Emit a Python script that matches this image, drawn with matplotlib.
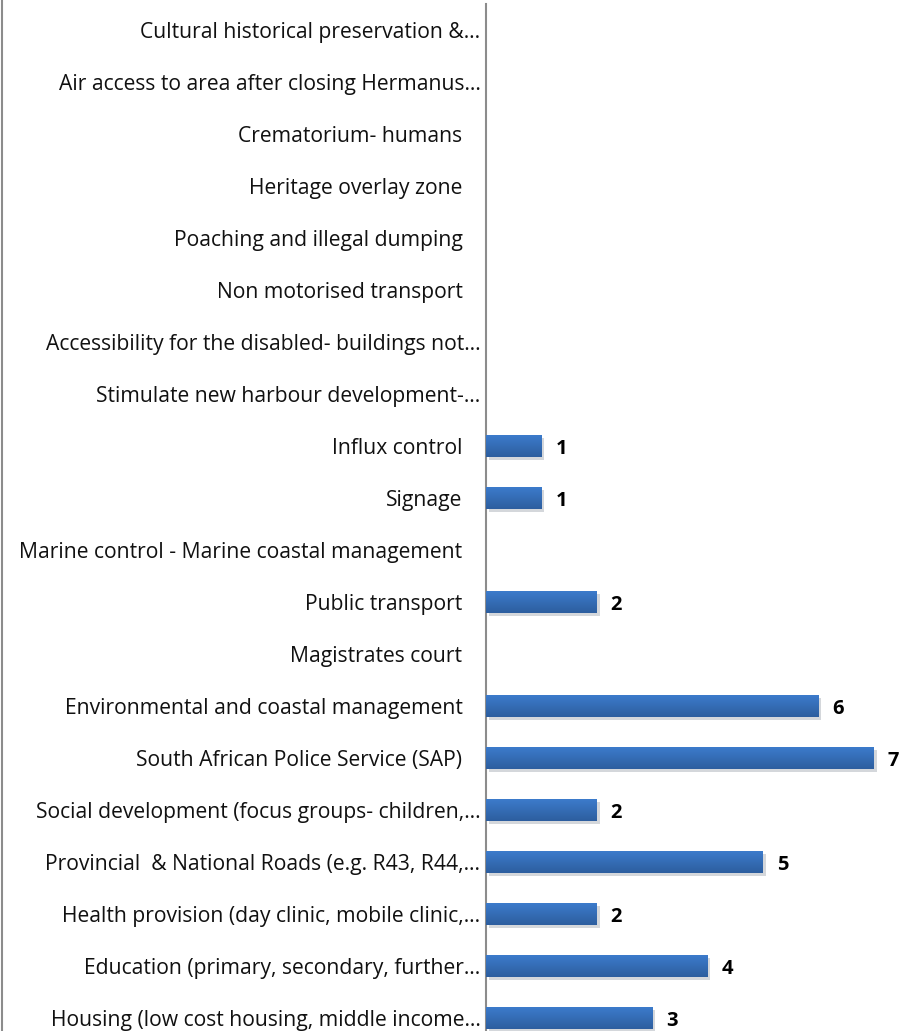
import numpy as np
import matplotlib.pyplot as plt
import matplotlib.patheffects as pe
from matplotlib.lines import Line2D
from matplotlib.colors import LinearSegmentedColormap

# categories listed bottom -> top
categories = [
    'Housing (low cost housing, middle income\u2026',
    'Education (primary, secondary, further\u2026',
    'Health provision (day clinic, mobile clinic,\u2026',
    'Provincial  & National Roads (e.g. R43, R44,\u2026',
    'Social development (focus groups- children,\u2026',
    'South African Police Service (SAP)',
    'Environmental and coastal management',
    'Magistrates court',
    'Public transport',
    'Marine control - Marine coastal management',
    'Signage',
    'Influx control',
    'Stimulate new harbour development-\u2026',
    'Accessibility for the disabled- buildings not\u2026',
    'Non motorised transport',
    'Poaching and illegal dumping',
    'Heritage overlay zone',
    'Crematorium- humans',
    'Air access to area after closing Hermanus\u2026',
    'Cultural historical preservation &\u2026',
]
values = [3, 4, 2, 5, 2, 7, 6, 0, 2, 0, 1, 1, 0, 0, 0, 0, 0, 0, 0, 0]

plt.rcParams['font.family'] = ['Open Sans', 'DejaVu Sans']

W, H = 923, 1031
fig = plt.figure(figsize=(W / 100, H / 100), dpi=100)
ax = fig.add_axes([486 / W, 0, 1 - 486 / W, (H - 4) / H])

y = np.arange(len(categories))
bars = ax.barh(y, values, height=0.42, color='#3a75c2', zorder=2,
               path_effects=[pe.SimplePatchShadow(offset=(2, -2), alpha=0.18),
                             pe.Normal()])

# vertical gradient on each bar
grad = np.linspace(0, 1, 64).reshape(-1, 1)
cmap = LinearSegmentedColormap.from_list('g', ['#2d5e9f', '#3c7bcb'])
for b in bars:
    if b.get_width() <= 0:
        continue
    x0, y0 = b.get_x(), b.get_y()
    im = ax.imshow(grad, cmap=cmap, aspect='auto', origin='lower',
                   extent=[x0, x0 + b.get_width(), y0, y0 + b.get_height()],
                   zorder=3)
    im.set_clip_path(b)

labels = [str(v) if v > 0 else '' for v in values]
txts = ax.bar_label(bars, labels=labels, padding=10, fontsize=14.5,
                    fontweight='bold', zorder=4)
for t in txts:
    t.set_va('center_baseline')

ax.set_xlim(0, (W - 486) / 55.4)
ax.set_ylim(-0.25, 19.5)
ax.set_yticks(y)
ax.set_yticklabels(categories, fontsize=15.2, color='#111111')
ax.tick_params(axis='y', length=0)
for t, lab in zip(ax.yaxis.get_major_ticks(), categories):
    t.set_pad(4 if lab.endswith('\u2026') else 17)
ax.set_xticks([])
for s in ['top', 'right', 'bottom']:
    ax.spines[s].set_visible(False)
ax.spines['left'].set_color('#8c8c8c')
ax.spines['left'].set_linewidth(1.5)

fig.add_artist(Line2D([2 / W, 2 / W], [0, 1], color='#8c8c8c', lw=1.5))

fig.savefig('out.png', dpi=100)
